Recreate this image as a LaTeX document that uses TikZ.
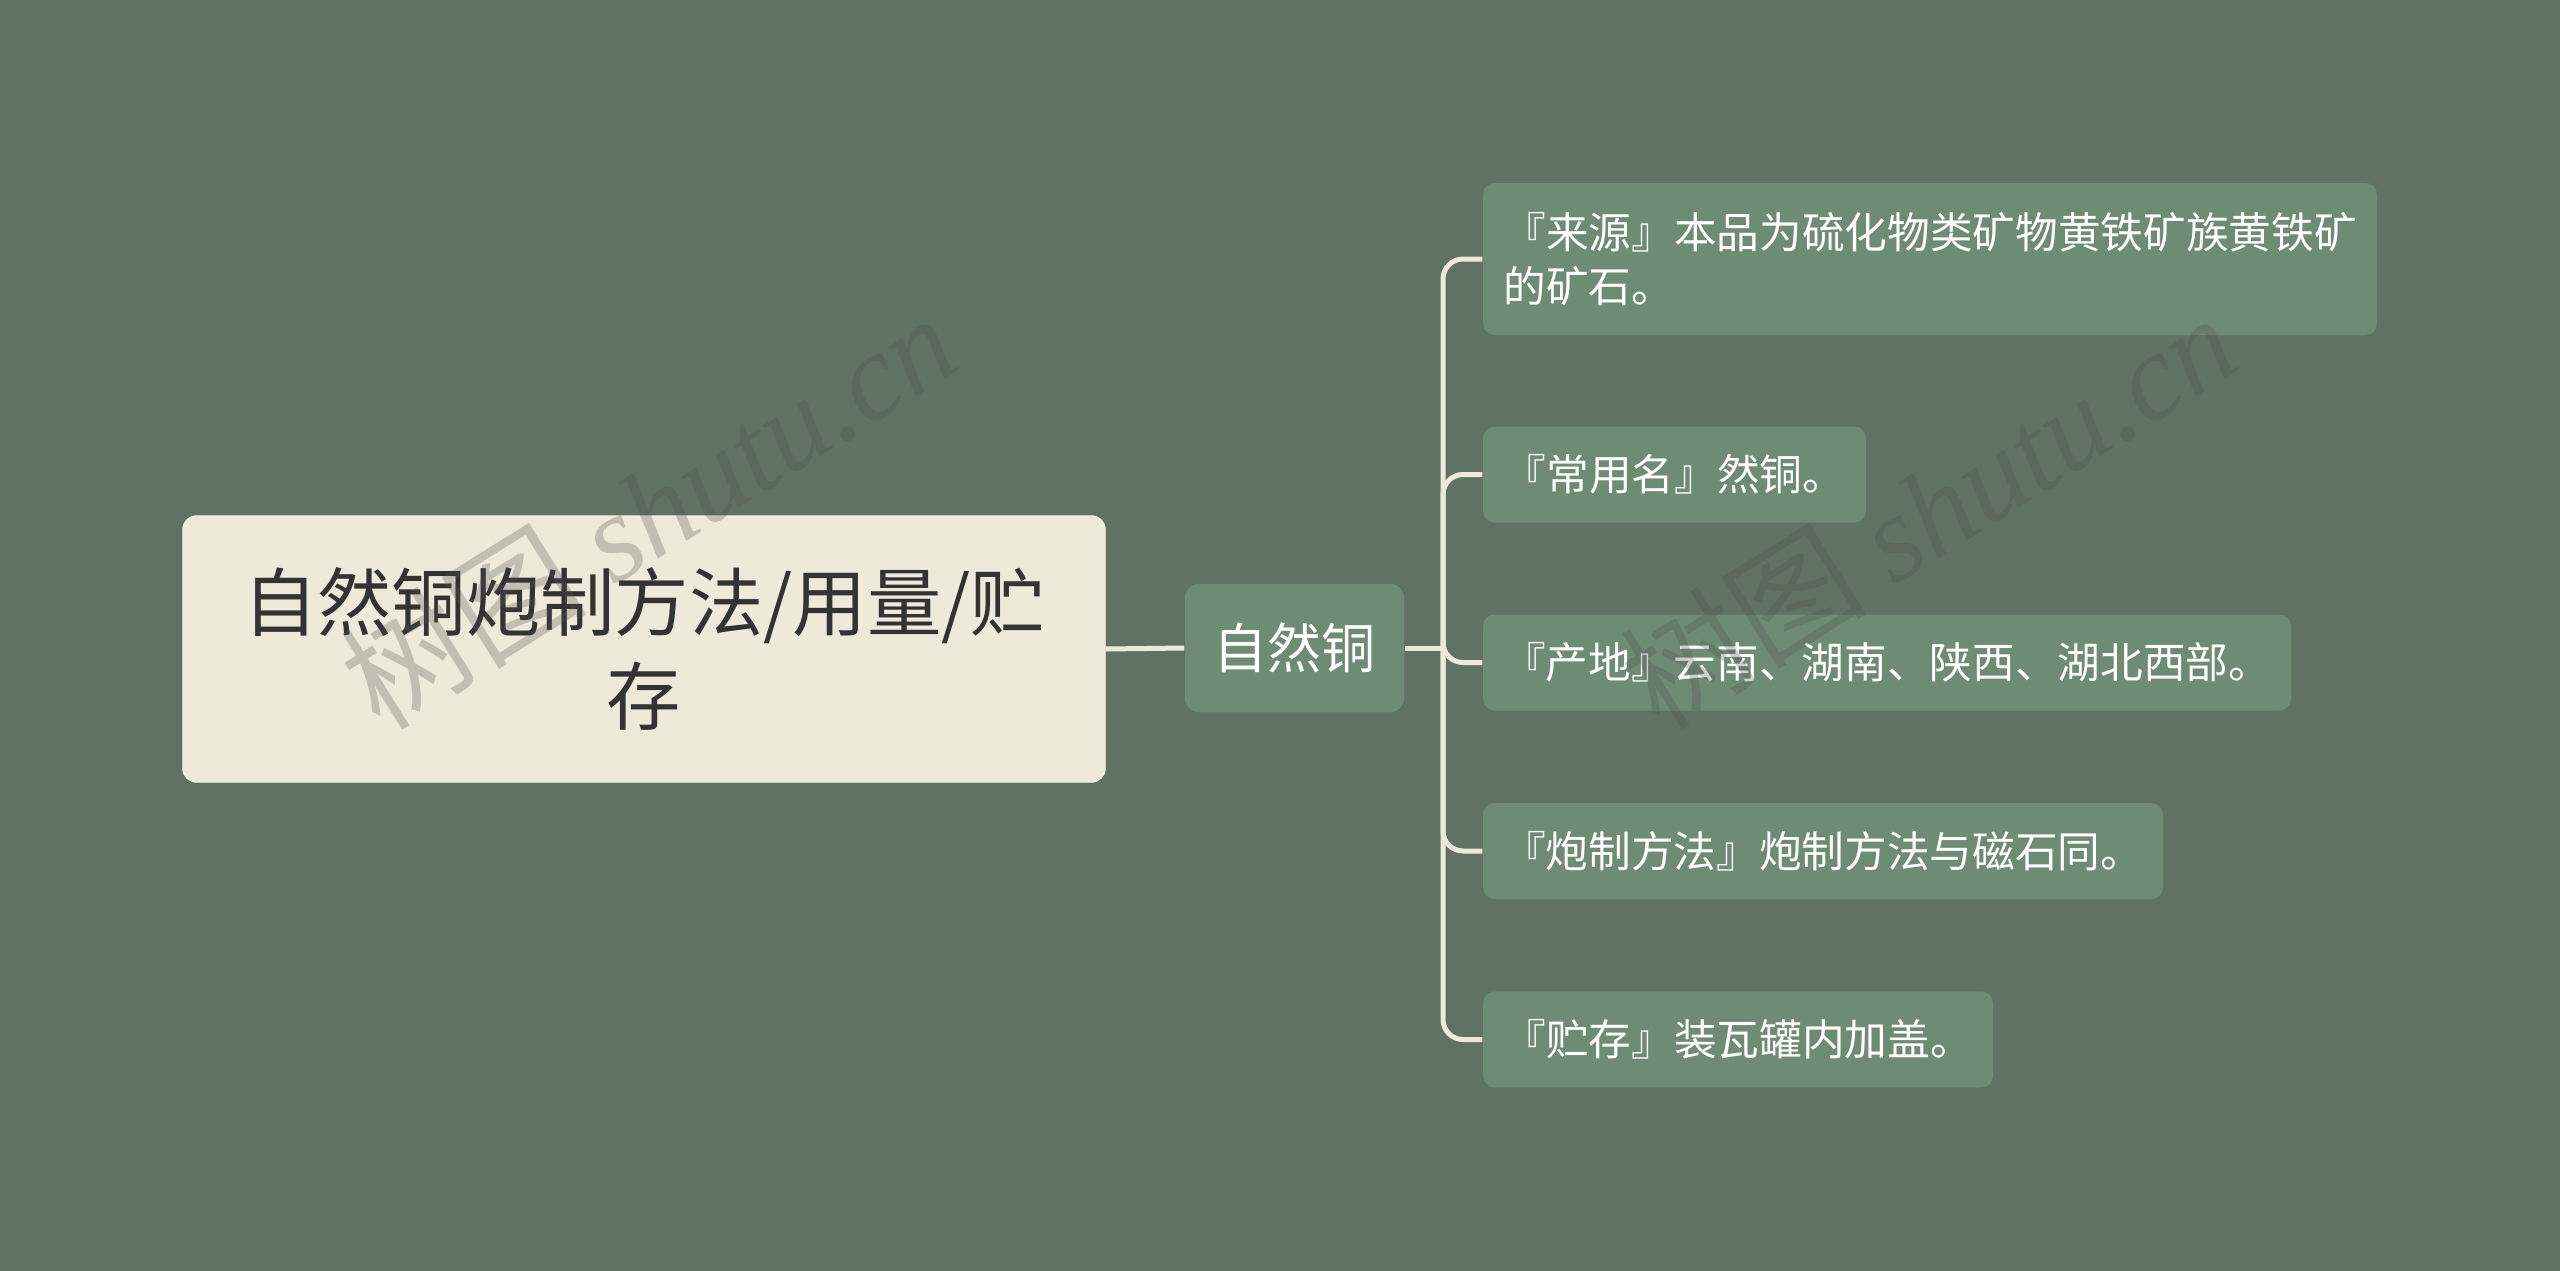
\documentclass[tikz,border=0pt]{standalone}
\usepackage{fontspec}
\setmainfont{Noto Sans CJK SC}
\newfontfamily\wmlatin{Liberation Serif}
\usetikzlibrary{positioning}
\definecolor{bgc}{HTML}{607363}
\definecolor{rootfill}{HTML}{EEE9D8}
\definecolor{rootline}{HTML}{F6F2E4}
\definecolor{leaffill}{HTML}{6E8B74}
\definecolor{linec}{HTML}{EEE9D8}
\definecolor{roottext}{HTML}{333333}
\definecolor{wmc}{HTML}{505050}
\tikzset{
  rootbox/.style={draw=rootline, line width=0.4pt, fill=rootfill, rounded corners=4pt,
    minimum width=276.6pt, minimum height=79.8pt, inner sep=0pt, align=center,
    text=roottext, font=\fontsize{22.3}{28}\selectfont},
  midbox/.style={fill=leaffill, rounded corners=4pt, minimum width=65.7pt,
    minimum height=38.4pt, inner sep=0pt, text=white, font=\fontsize{16.2}{19}\selectfont},
  leafbox/.style={fill=leaffill, rounded corners=3.5pt, minimum height=28.8pt,
    inner sep=0pt, text=white, align=left, font=\fontsize{12.8}{16.2}\selectfont},
  conn/.style={draw=linec, line width=1.5pt, rounded corners=6pt},
  wm/.style={text=wmc, opacity=0.28, rotate=32, inner sep=0pt}
}
\begin{document}
\begin{tikzpicture}[x=0.3pt,y=-0.3pt]
\fill[bgc] (0,0) rectangle (2560,1271);
\useasboundingbox (0,0) rectangle (2560,1271);

\node[rootbox] (root) at (644,649) {自然铜炮制方法/用量/贮\\存};
\node[midbox] (mid) at (1294.5,648) {自然铜};

\node[leafbox, minimum width=268.2pt, minimum height=45.6pt] (c1) at (1930,259)
  {『来源』本品为硫化物类矿物黄铁矿族黄铁矿\\的矿石。};
\node[leafbox, minimum width=114.9pt] (c2) at (1674.5,474.5) {『常用名』然铜。};
\node[leafbox, minimum width=242.4pt] (c3) at (1887,662.5) {『产地』云南、湖南、陕西、湖北西部。};
\node[leafbox, minimum width=204pt] (c4) at (1823,851) {『炮制方法』炮制方法与磁石同。};
\node[leafbox, minimum width=153pt] (c5) at (1738,1039.5) {『贮存』装瓦罐内加盖。};

\coordinate (trunk) at (1443,648);

\draw[conn] (root.east) -- (mid.west);
\draw[conn] (mid.east) -- (trunk);
\foreach \c in {c1,c2,c3,c4,c5}{
  \draw[conn] (trunk) |- (\c.west);
}

\node[wm] (wm1) at (648,510) {\fontsize{37}{37}\selectfont 树图 {\wmlatin\itshape shutu.cn}};
\node[wm] (wm2) at (1928,510) {\fontsize{37}{37}\selectfont 树图 {\wmlatin\itshape shutu.cn}};
\end{tikzpicture}
\end{document}
